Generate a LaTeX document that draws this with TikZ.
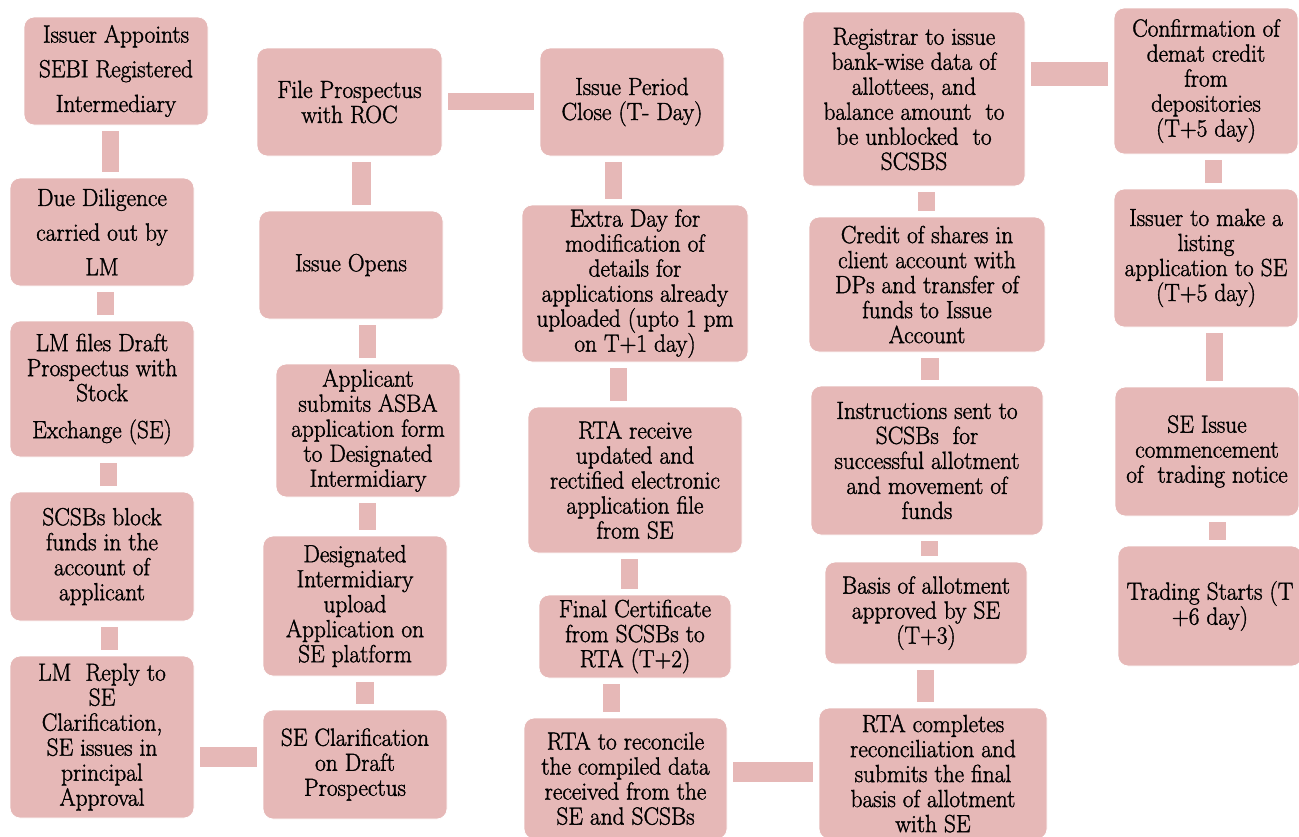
\documentclass[tikz,border=0pt]{standalone}
\usepackage{fontspec}
\newfontfamily\boxfont{Latin Modern Roman}[FakeBold=1.4, FakeStretch=0.94]
\definecolor{boxpink}{HTML}{E6B8B7}
\tikzset{
  x=0.75pt, y=-0.75pt,
  box/.style 2 args={rectangle, rounded corners=7.5pt, fill=boxpink, draw=white, line width=0.6pt,
    minimum width=#1*0.75pt, minimum height=#2*0.75pt, inner sep=0pt, align=center,
    font=\boxfont\fontsize{18.6}{18.75}\selectfont},
  loose/.style={font=\boxfont\fontsize{18.6}{26}\selectfont},
  bar/.style={draw=boxpink, line width=#1*0.75pt, shorten <=4.5pt, shorten >=4.5pt},
  bar/.default=17
}
\begin{document}
\begin{tikzpicture}
\useasboundingbox (0,0) rectangle (1299,836);
\clip (0,0) rectangle (1299,836);
% column 1
\node[box={184}{108}, loose] (b1) at (116,71) {Issuer Appoints\\SEBI Registered\\Intermediary};
\node[box={184}{108}, loose] (b2) at (102,232) {Due Diligence\\carried out by\\LM};
\node[box={184}{136}] (b3) at (102,389) {LM files Draft\\Prospectus with\\Stock\\[9pt]Exchange (SE)};
\node[box={184}{129}] (b4) at (102,556.5) {SCSBs block\\funds in the\\account of\\applicant};
\node[box={184}{162}] (b5) at (102,737) {LM\ \ Reply to\\SE\\Clarification,\\SE issues in\\principal\\Approval};
% column 2
\node[box={185}{108}] (c1) at (349.5,102) {File Prospectus\\with ROC};
\node[box={184}{108}] (c2) at (351,265) {Issue Opens};
\node[box={184}{133}] (c3) at (368,430.5) {Applicant\\submits ASBA\\application form\\to Designated\\Intermidiary};
\node[box={184}{140}] (c4) at (355,606) {Designated\\Intermidiary\\upload\\Application on\\SE platform};
\node[box={184}{109}] (c5) at (355,764.5) {SE Clarification\\on Draft\\Prospectus};
% column 3
\node[box={184}{108}] (d1) at (632,102) {Issue Period\\Close (T- Day)};
\node[box={226}{157}] (d2) at (635,283.5) {Extra Day for\\modification of\\details for\\applications already\\uploaded (upto 1 pm\\on T+1 day)};
\node[box={214}{146}] (d3) at (635,480) {RTA receive\\updated and\\rectified electronic\\application file\\from SE};
\node[box={192}{83}] (d4) at (635,636.5) {Final Certificate\\from SCSBs to\\RTA (T+2)};
\node[box={203}{121}] (d5) at (625.5,778.5) {RTA to reconcile\\the compiled data\\received from the\\SE and SCSBs};
% column 4
\node[box={222}{174}] (e1) at (914,99) {Registrar to issue\\bank-wise data of\\allottees, and\\balance amount\ \ to\\be unblocked\ \ to\\SCSBS};
\node[box={236}{135}] (e2) at (927,284.5) {Credit of shares in\\client account with\\DPs and transfer of\\funds to Issue\\Account};
\node[box={232}{149}] (e3) at (927,460.5) {Instructions sent to\\SCSBs\ \ for\\successful allotment\\and movement of\\funds};
\node[box={202}{102}] (e4) at (926,613) {Basis of allotment\\approved by SE\\(T+3)};
\node[box={228}{131}] (e5) at (933,773.5) {RTA completes\\reconciliation and\\submits the final\\basis of allotment\\with SE};
% column 5
\node[box={184}{146}] (f1) at (1206,81) {Confirmation of\\demat credit\\from\\depositories\\(T+5 day)};
\node[box={184}{138}] (f2) at (1206,258) {Issuer to make a\\listing\\application to SE\\(T+5 day)};
\node[box={184}{129}] (f3) at (1207,451.5) {SE Issue\\commencement\\of\ \ trading notice};
\node[box={184}{120}] (f4) at (1210,606) {Trading Starts (T\\+6 day)};
% connectors
\draw[bar] (b1.south -| 110.5,0) -- (b2.north -| 110.5,0);
\draw[bar] (b2.south -| 105,0) -- (b3.north -| 105,0);
\draw[bar] (b3.south -| 108,0) -- (b4.north -| 108,0);
\draw[bar] (b4.south -| 109,0) -- (b5.north -| 109,0);
\draw[bar=20] (b5.east |- 0,757) -- (c5.west |- 0,757);
\draw[bar=18] (c5.north -| 365,0) -- (c4.south -| 365,0);
\draw[bar] (c4.north -| 367.5,0) -- (c3.south -| 367.5,0);
\draw[bar] (c3.north -| 367.5,0) -- (c2.south -| 367.5,0);
\draw[bar=19] (c2.north -| 361,0) -- (c1.south -| 361,0);
\draw[bar] (c1.east |- 0,101.5) -- (d1.west |- 0,101.5);
\draw[bar] (d1.south -| 613.5,0) -- (d2.north -| 613.5,0);
\draw[bar] (d2.south -| 618.5,0) -- (d3.north -| 618.5,0);
\draw[bar] (d3.south -| 629.5,0) -- (d4.north -| 629.5,0);
\draw[bar] (d4.south -| 611,0) -- (d5.north -| 611,0);
\draw[bar=20] (d5.east |- 0,772) -- (e5.west |- 0,772);
\draw[bar] (e5.north -| 925,0) -- (e4.south -| 925,0);
\draw[bar] (e4.north -| 929.5,0) -- (e3.south -| 929.5,0);
\draw[bar=18] (e3.north -| 930,0) -- (e2.south -| 930,0);
\draw[bar] (e2.north -| 926,0) -- (e1.south -| 926,0);
\draw[bar=24] (e1.east |- 0,74) -- (f1.west |- 0,74);
\draw[bar] (f1.south -| 1213.5,0) -- (f2.north -| 1213.5,0);
\draw[bar] (f2.south -| 1214,0) -- (f3.north -| 1214,0);
\draw[bar] (f3.south -| 1217,0) -- (f4.north -| 1217,0);
\end{tikzpicture}
\end{document}
